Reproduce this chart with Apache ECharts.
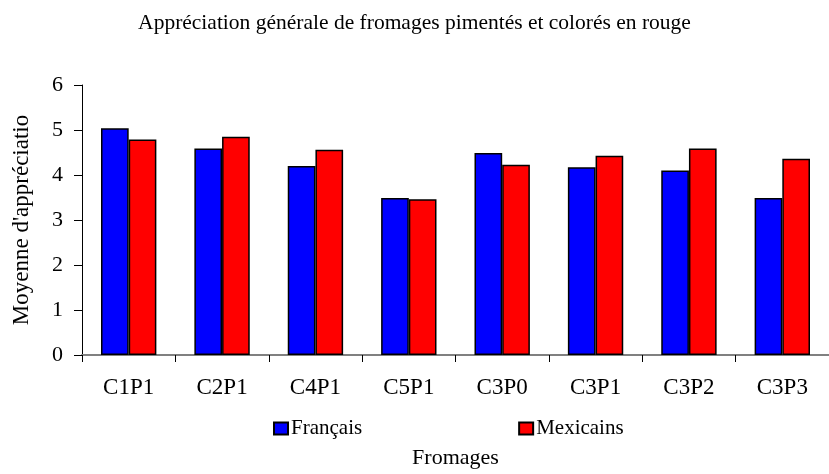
<!DOCTYPE html>
<html>
<head>
<meta charset="utf-8">
<script src="https://cdn.jsdelivr.net/npm/echarts@6/dist/echarts.min.js"></script>
<style>
  html, body { margin: 0; padding: 0; background: #fff; }
  #chart { width: 829px; height: 474px; }
</style>
</head>
<body>
<div id="chart"></div>
<script>
// Cheese samples and mean liking scores per panel
const categories = ['C1P1', 'C2P1', 'C4P1', 'C5P1', 'C3P0', 'C3P1', 'C3P2', 'C3P3'];
const francais = [5.04, 4.59, 4.20, 3.49, 4.49, 4.17, 4.10, 3.49];
const mexicains = [4.79, 4.85, 4.56, 3.46, 4.23, 4.43, 4.59, 4.36];
const yTicks = [0, 1, 2, 3, 4, 5, 6];

const serif = 'Liberation Serif, Times New Roman, serif';
const chart = echarts.init(document.getElementById('chart'), null, { renderer: 'canvas' });

chart.setOption({
  backgroundColor: '#ffffff',
  animation: false,
  title: {
    text: 'Appréciation générale de fromages pimentés et colorés en rouge',
    left: 'center',
    top: 7,
    textStyle: { fontFamily: serif, fontSize: 21.5, fontWeight: 'normal', color: '#000' }
  },
  legend: {
    data: ['Français', 'Mexicains'],
    left: 268,
    top: 413,
    itemWidth: 14,
    itemHeight: 12,
    itemGap: 156,
    icon: 'rect',
    textStyle: { fontFamily: serif, fontSize: 21, color: '#000', padding: [0, 0, 0, -2] }
  },
  grid: { left: 82, top: 85, right: -9, bottom: 114, containLabel: false },
  xAxis: {
    type: 'category',
    data: categories,
    name: 'Fromages',
    nameLocation: 'middle',
    nameGap: 92,
    nameTextStyle: { fontFamily: serif, fontSize: 22, color: '#000' },
    axisLine: { lineStyle: { color: '#808080', width: 2 } },
    axisTick: { show: true, length: 7, lineStyle: { color: '#000' } },
    axisLabel: { fontFamily: serif, fontSize: 23, color: '#000', margin: 21 }
  },
  yAxis: {
    type: 'value',
    min: yTicks[0],
    max: yTicks[yTicks.length - 1],
    interval: 1,
    name: "Moyenne d'appréciatio",
    nameLocation: 'middle',
    nameGap: 49,
    nameTextStyle: { fontFamily: serif, fontSize: 23, color: '#000' },
    axisLine: { show: true, lineStyle: { color: '#000', width: 1 } },
    axisTick: { show: true, length: 8, lineStyle: { color: '#000' } },
    splitLine: { show: false },
    axisLabel: { fontFamily: serif, fontSize: 22, color: '#000', margin: 19 }
  },
  series: [
    {
      name: 'Français',
      type: 'bar',
      data: francais,
      barGap: '0%',
      barCategoryGap: '40.7%',
      itemStyle: { color: '#0000ff', borderColor: '#000', borderWidth: 1.5 }
    },
    {
      name: 'Mexicains',
      type: 'bar',
      data: mexicains,
      barGap: '0%',
      barCategoryGap: '40.7%',
      itemStyle: { color: '#ff0000', borderColor: '#000', borderWidth: 1.5 }
    }
  ]
});
</script>
</body>
</html>
